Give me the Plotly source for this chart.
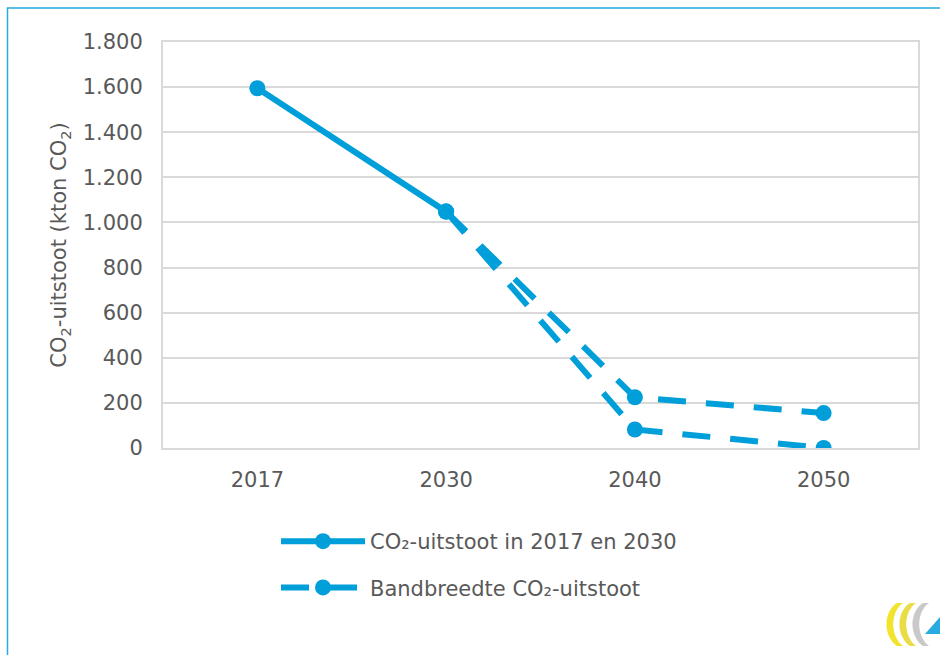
import plotly.graph_objects as go

# ---- data ----
years = ["2017", "2030", "2040", "2050"]
actual_years = ["2017", "2030"]
actual_values = [1595, 1048]
band_years = ["2030", "2040", "2050"]
band_upper = [1048, 225, 155]
band_lower = [1048, 82, 0]
y_ticks = [0, 200, 400, 600, 800, 1000, 1200, 1400, 1600, 1800]
y_tick_labels = ["0", "200", "400", "600", "800", "1.000", "1.200", "1.400", "1.600", "1.800"]

BLUE = "#009FDA"
TXT = "#595959"
GRID = "#D9D9D9"
FONT = "DejaVu Sans"

W, H = 940, 655
L, R, T, B = 163, 22, 42, 207
PW, PH = W - L - R, H - T - B


def px(x):
    return (x - L) / PW


def py(y):
    return (H - B - y) / PH


fig = go.Figure()

fig.add_trace(go.Scatter(
    x=actual_years, y=actual_values, mode="lines+markers",
    name="CO\u2082-uitstoot in 2017 en 2030",
    line=dict(color=BLUE, width=6),
    marker=dict(color=BLUE, size=16),
    legendgroup="a",
))
fig.add_trace(go.Scatter(
    x=band_years, y=band_upper, mode="lines+markers",
    name="Bandbreedte CO\u2082-uitstoot",
    line=dict(color=BLUE, width=6, dash="28px,20px"),
    marker=dict(color=BLUE, size=16),
    legendgroup="b",
))
fig.add_trace(go.Scatter(
    x=band_years, y=band_lower, mode="lines+markers",
    name="Bandbreedte CO\u2082-uitstoot",
    line=dict(color=BLUE, width=6, dash="28px,20px"),
    marker=dict(color=BLUE, size=16),
    legendgroup="b", showlegend=False,
))

shapes = [
    # outer blue frame
    dict(type="rect", xref="paper", yref="paper",
         x0=px(7.5), x1=px(960), y0=py(8), y1=py(680),
         line=dict(color="#29ABE2", width=1.5), layer="below"),
]


# small logo approximation (decorative)
def P(a, b):
    return f"{px(a):.5f},{py(b):.5f}"


def crescent(x0, col):
    p = (f"M {P(x0 + 10, 603)} C {P(x0 - 4, 612)} {P(x0 - 4, 636)} {P(x0 + 10, 646)} "
         f"L {P(x0 + 16, 646)} C {P(x0 + 3, 636)} {P(x0 + 3, 612)} {P(x0 + 16, 603)} Z")
    return dict(type="path", xref="paper", yref="paper", path=p,
                fillcolor=col, line=dict(width=0), layer="above")


shapes.append(crescent(887, "#F2E32B"))
shapes.append(crescent(900, "#E9DC45"))
shapes.append(crescent(913, "#C9C9C9"))
shapes.append(dict(type="path", xref="paper", yref="paper",
                   path=f"M {P(940, 617)} L {P(940, 634)} L {P(925, 634)} Z",
                   fillcolor="#29ABE2", line=dict(width=0), layer="above"))

fig.update_layout(
    width=W, height=H,
    margin=dict(l=L, r=R, t=T, b=B, pad=0),
    paper_bgcolor="white", plot_bgcolor="white",
    font=dict(family=FONT, color=TXT, size=21),
    showlegend=True,
    legend=dict(
        x=px(276), y=py(521), xanchor="left", yanchor="top",
        font=dict(family=FONT, size=21, color=TXT),
        itemwidth=84, tracegroupgap=16,
        bgcolor="rgba(0,0,0,0)",
    ),
    shapes=shapes,
    xaxis=dict(
        type="category", categoryorder="array", categoryarray=years,
        range=[-0.5, 3.5], showgrid=False,
        showline=True, linecolor=GRID, linewidth=2, mirror=True,
        ticks="", tickfont=dict(size=21, color=TXT),
        ticklabelstandoff=12, zeroline=False, fixedrange=True,
    ),
    yaxis=dict(
        range=[0, 1800], tickvals=y_ticks, ticktext=y_tick_labels,
        showgrid=True, gridcolor=GRID, gridwidth=2,
        showline=True, linecolor=GRID, linewidth=2, mirror=True,
        zeroline=False, ticks="", tickfont=dict(size=21, color=TXT),
        ticklabelstandoff=14,
        title=dict(text="CO<sub>2</sub>-uitstoot (kton CO<sub>2</sub>)",
                   font=dict(size=21, color=TXT), standoff=10),
        fixedrange=True,
    ),
)

fig.write_html("out.html")
